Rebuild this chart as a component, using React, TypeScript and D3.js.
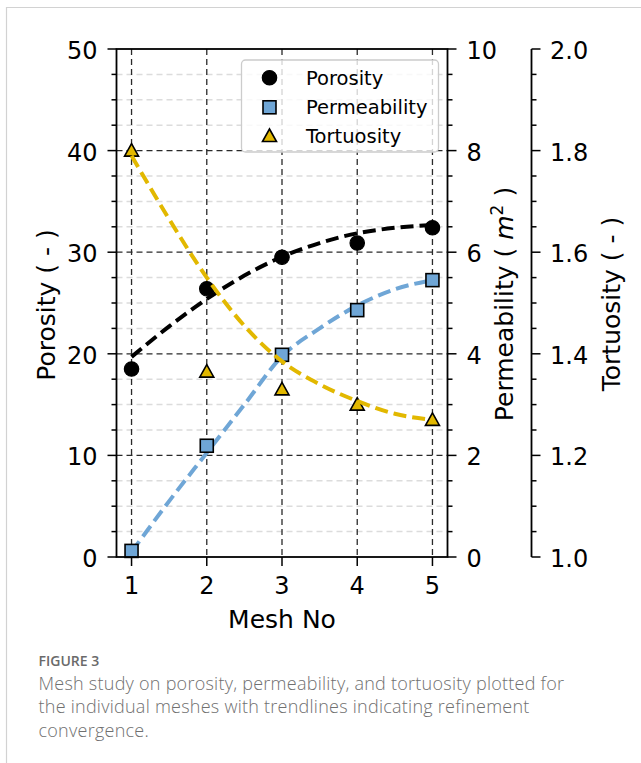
import * as d3 from "d3";
import { useEffect, useRef } from "react";

// values
const meshNo = [1, 2, 3, 4, 5];
const porosity = [18.5, 26.4, 29.5, 30.9, 32.4];
const permeability = [0.12, 2.19, 3.98, 4.86, 5.45];
const tortuosity = [1.8, 1.365, 1.33, 1.3, 1.27];

// trendlines, read at half steps
const trendX = [1, 1.5, 2, 2.5, 3, 3.5, 4, 4.5, 5];
const porosityTrend = [19.7, 22.7, 25.4, 27.7, 29.55, 30.9, 31.86, 32.4, 32.68];
const permeabilityTrend = [0.1, 1.1, 2.05, 3.0, 3.95, 4.5, 4.95, 5.27, 5.45];
const tortuosityTrend = [1.79, 1.665, 1.55, 1.455, 1.385, 1.34, 1.307, 1.282, 1.27];

const porosityTicks = [0, 10, 20, 30, 40, 50];
const permeabilityTicks = [0, 2, 4, 6, 8, 10];
const tortuosityTicks = [1.0, 1.2, 1.4, 1.6, 1.8, 2.0];

const seriesNames = ["Porosity", "Permeability", "Tortuosity"];
const captionTitle = "FIGURE 3";
const captionLines = [
    "Mesh study on porosity, permeability, and tortuosity plotted for",
    "the individual meshes with trendlines indicating refinement",
    "convergence."
];

const colors = { por: "#000000", perm: "#6fa6d6", tort: "#e2b800" };

const App = () => {
    const ref = useRef<SVGSVGElement>(null);

    const width = 641;
    const height = 763;

    const L = 116.5, R = 447.5, T = 49, B = 557;
    const tortX = 531.5;
    const font = "DejaVu Sans, sans-serif";

    useEffect(() => {
        const svg = d3.select(ref.current);
        svg.selectAll("*").remove();

        const x = d3.scaleLinear().domain([0.8, 5.2]).range([L, R]);
        const yPor = d3.scaleLinear().domain([0, 50]).range([B, T]);
        const yPerm = d3.scaleLinear().domain([0, 10]).range([B, T]);
        const yTort = d3.scaleLinear().domain([1, 2]).range([B, T]);

        // card frame
        svg.append("path")
            .attr("d", `M6.5,${height} L6.5,7.5 L${width},7.5`)
            .attr("fill", "none")
            .attr("stroke", "#d2d2d2")
            .attr("stroke-width", 1.2);

        // minor grid
        const porMinor = d3.range(0, 50.01, 2.5).filter(v => v % 10 !== 0);
        svg.append("g").selectAll("line")
            .data(porMinor)
            .enter()
            .append("line")
            .attr("x1", L).attr("x2", R)
            .attr("y1", d => yPor(d)).attr("y2", d => yPor(d))
            .attr("stroke", "#dcdcdc")
            .attr("stroke-width", 1.5)
            .attr("stroke-dasharray", "6,4");

        // major grid
        const grid = svg.append("g")
            .attr("stroke", "#2a2a2a")
            .attr("stroke-width", 1.3)
            .attr("stroke-dasharray", "6,4");
        grid.selectAll(".h")
            .data(porosityTicks.slice(1, -1))
            .enter()
            .append("line")
            .attr("x1", L).attr("x2", R)
            .attr("y1", d => yPor(d)).attr("y2", d => yPor(d));
        grid.selectAll(".v")
            .data(meshNo)
            .enter()
            .append("line")
            .attr("x1", d => x(d)).attr("x2", d => x(d))
            .attr("y1", T).attr("y2", B);

        const drawTrend = (vals: number[], y: d3.ScaleLinear<number, number>, color: string) => {
            const line = d3.line<number>()
                .x((d, i) => x(trendX[i]))
                .y(d => y(d))
                .curve(d3.curveMonotoneX);
            svg.append("path")
                .attr("d", line(vals))
                .attr("fill", "none")
                .attr("stroke", color)
                .attr("stroke-width", 4)
                .attr("stroke-dasharray", "13,6");
        };

        const circle = (g: any, cx: number, cy: number) =>
            g.append("circle").attr("cx", cx).attr("cy", cy).attr("r", 7.2)
                .attr("fill", colors.por).attr("stroke", "#000").attr("stroke-width", 1.2);
        const square = (g: any, cx: number, cy: number) =>
            g.append("rect").attr("x", cx - 6.5).attr("y", cy - 6.5)
                .attr("width", 13).attr("height", 13)
                .attr("fill", colors.perm).attr("stroke", "#000").attr("stroke-width", 1.6);
        const triangle = (g: any, cx: number, cy: number) =>
            g.append("path")
                .attr("d", `M${cx},${cy - 7} L${cx + 7},${cy + 5.5} L${cx - 7},${cy + 5.5} Z`)
                .attr("fill", colors.tort).attr("stroke", "#000").attr("stroke-width", 1.6)
                .attr("stroke-linejoin", "miter");

        // porosity
        porosity.forEach((v, i) => circle(svg, x(meshNo[i]), yPor(v)));
        drawTrend(porosityTrend, yPor, colors.por);

        // permeability
        drawTrend(permeabilityTrend, yPerm, colors.perm);
        permeability.forEach((v, i) => square(svg, x(meshNo[i]), yPerm(v)));

        // tortuosity
        tortuosity.forEach((v, i) => triangle(svg, x(meshNo[i]), yTort(v)));
        drawTrend(tortuosityTrend, yTort, colors.tort);

        // spines
        svg.append("rect")
            .attr("x", L).attr("y", T)
            .attr("width", R - L).attr("height", B - T)
            .attr("fill", "none")
            .attr("stroke", "#000")
            .attr("stroke-width", 1.8);
        svg.append("line")
            .attr("x1", tortX).attr("x2", tortX)
            .attr("y1", T).attr("y2", B)
            .attr("stroke", "#000")
            .attr("stroke-width", 1.8);

        // ticks
        const ticks = svg.append("g").attr("stroke", "#000").attr("stroke-width", 1.5);
        const addTicks = (vals: number[], y: d3.ScaleLinear<number, number>, x0: number, dir: number, len: number) => {
            vals.forEach(v => {
                ticks.append("line")
                    .attr("x1", x0).attr("x2", x0 + dir * len)
                    .attr("y1", y(v)).attr("y2", y(v));
            });
        };
        addTicks(porosityTicks, yPor, L, -1, 9);
        addTicks(porMinor, yPor, L, -1, 5);
        addTicks(permeabilityTicks, yPerm, R, 1, 9);
        addTicks(d3.range(0, 10.01, 0.5).filter(v => v % 2 !== 0), yPerm, R, 1, 5);
        addTicks(tortuosityTicks, yTort, tortX, 1, 9);
        addTicks(d3.range(0, 20.01, 1).filter(v => v % 4 !== 0).map(v => 1 + v * 0.05), yTort, tortX, 1, 5);
        meshNo.forEach(m => {
            ticks.append("line")
                .attr("x1", x(m)).attr("x2", x(m))
                .attr("y1", B).attr("y2", B + 9);
        });

        // tick labels
        const labels = svg.append("g")
            .style("font-family", font)
            .style("font-size", "24px")
            .attr("fill", "#000");
        porosityTicks.forEach(v => {
            labels.append("text")
                .attr("x", 97.5).attr("y", yPor(v) + 10)
                .attr("text-anchor", "end")
                .text(v);
        });
        permeabilityTicks.forEach(v => {
            labels.append("text")
                .attr("x", 466.5).attr("y", yPerm(v) + 10)
                .text(v);
        });
        tortuosityTicks.forEach(v => {
            labels.append("text")
                .attr("x", 550).attr("y", yTort(v) + 10)
                .text(d3.format(".1f")(v));
        });
        meshNo.forEach(m => {
            labels.append("text")
                .attr("x", x(m)).attr("y", 593.5)
                .attr("text-anchor", "middle")
                .text(m);
        });

        // axis titles
        const titles = svg.append("g")
            .style("font-family", font)
            .style("font-size", "25px")
            .attr("fill", "#000");
        titles.append("text")
            .attr("x", (L + R) / 2).attr("y", 627.5)
            .attr("text-anchor", "middle")
            .text("Mesh No");
        titles.append("text")
            .attr("transform", "translate(55,305) rotate(-90)")
            .attr("text-anchor", "middle")
            .text("Porosity ( - )");
        const perm = titles.append("text")
            .attr("transform", "translate(513,304) rotate(-90)")
            .attr("text-anchor", "middle");
        perm.append("tspan").text("Permeability ( ");
        perm.append("tspan").style("font-style", "italic").text("m");
        perm.append("tspan").attr("dy", -10).style("font-size", "17px").text("2");
        perm.append("tspan").attr("dy", 10).text(" )");
        titles.append("text")
            .attr("transform", "translate(620,304) rotate(-90)")
            .attr("text-anchor", "middle")
            .text("Tortuosity ( - )");

        // legend
        const leg = svg.append("g");
        leg.append("rect")
            .attr("x", 241.5).attr("y", 60)
            .attr("width", 197).attr("height", 92)
            .attr("rx", 4)
            .attr("fill", "#ffffff")
            .attr("fill-opacity", 0.8)
            .attr("stroke", "#cccccc")
            .attr("stroke-width", 1.3);
        const rowsY = [77.7, 107.3, 136];
        circle(leg, 269.5, rowsY[0]);
        square(leg, 269.5, rowsY[1]);
        triangle(leg, 269.5, rowsY[2]);
        seriesNames.forEach((n, i) => {
            leg.append("text")
                .attr("x", 306).attr("y", rowsY[i] + 7)
                .style("font-family", font)
                .style("font-size", "19.5px")
                .text(n);
        });

        // caption
        svg.append("text")
            .attr("x", 38.5).attr("y", 665.5)
            .style("font-family", "'Open Sans', sans-serif")
            .style("font-size", "14px")
            .style("font-weight", 600)
            .attr("fill", "#6a6a6a")
            .text(captionTitle);
        captionLines.forEach((t, i) => {
            svg.append("text")
                .attr("x", 38.5).attr("y", 689.5 + i * 23.5)
                .style("font-family", "'Open Sans', sans-serif")
                .style("font-size", "18px")
                .style("font-weight", 300)
                .style("letter-spacing", "0.25px")
                .attr("fill", "#707070")
                .text(t);
        });
    }, []);

    return (
        <svg
            ref={ref}
            width={width}
            height={height}
            style={{ position: "absolute", left: 0, top: 0, background: "#fff" }}
        ></svg>
    );
};

export default App;
